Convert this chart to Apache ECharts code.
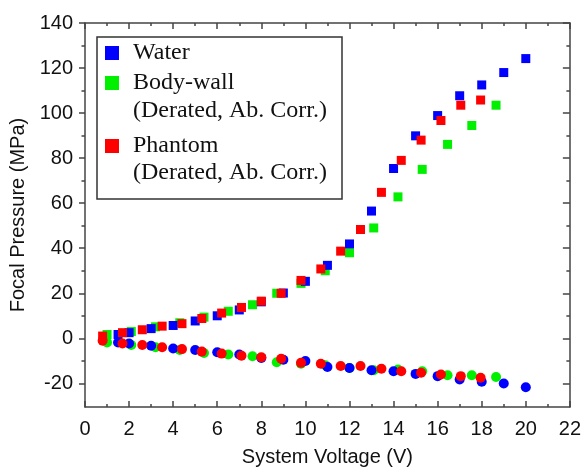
<!DOCTYPE html>
<html>
<head>
<meta charset="utf-8">
<script src="https://cdn.jsdelivr.net/npm/echarts@6/dist/echarts.min.js"></script>
<style>
  html, body { margin: 0; padding: 0; background: #fff; }
  #chart { width: 584px; height: 472px; }
</style>
</head>
<body>
<div id="chart"></div>
<script>
// voltages (V) and focal pressures (MPa)
const waterV = [1.5, 2, 3, 4, 5, 6, 7, 8, 9, 10, 11, 12, 13, 14, 15, 16, 17, 18, 19, 20];
const waterPos = [1.7, 2.5, 4.3, 5.7, 7.7, 10.0, 12.6, 16.2, 20.1, 25.3, 32.4, 41.9, 56.5, 75.4, 89.9, 98.9, 107.7, 112.5, 118.0, 124.2];
const waterNeg = [-1.9, -2.3, -3.3, -4.5, -5.2, -6.2, -7.2, -8.7, -9.5, -10.1, -12.7, -13.2, -14.2, -14.6, -15.8, -16.8, -18.3, -19.3, -20.1, -21.7];

const bodyV = [1.0, 2.1, 3.2, 4.3, 5.4, 6.5, 7.6, 8.7, 9.8, 10.9, 12.0, 13.1, 14.2, 15.3, 16.45, 17.55, 18.65];
const bodyPos = [1.7, 3.0, 5.1, 6.9, 9.4, 12.0, 14.9, 20.0, 24.4, 30.0, 38.0, 49.0, 62.8, 75.0, 86.1, 94.5, 103.5];
const bodyNeg = [-1.9, -3.0, -4.0, -5.2, -6.5, -7.2, -8.0, -10.6, -11.3, -12.0, -13.2, -14.2, -13.9, -14.6, -16.4, -16.4, -17.2];

const phantomV = [0.8, 1.7, 2.6, 3.5, 4.4, 5.3, 6.2, 7.1, 8.0, 8.9, 9.8, 10.7, 11.6, 12.5, 13.45, 14.35, 15.25, 16.15, 17.05, 17.95];
const phantomPos = [1.0, 2.5, 3.8, 5.4, 6.5, 8.8, 11.2, 13.7, 16.5, 20.0, 25.7, 30.8, 38.7, 48.3, 64.8, 79.0, 88.0, 96.7, 103.5, 105.8];
const phantomNeg = [-1.1, -2.3, -3.0, -4.0, -4.8, -5.9, -6.8, -7.7, -8.4, -9.1, -10.9, -11.3, -12.3, -12.3, -13.5, -14.6, -15.3, -16.1, -16.8, -17.5];

const yMajor = [-20, 0, 20, 40, 60, 80, 100, 120, 140];
const yMinor = [-10, 10, 30, 50, 70, 90, 110, 130];

const subLabel = '(Derated, Ab. Corr.)';

function pairs(xs, ys) {
  return xs.map(function (x, i) { return [x, ys[i]]; });
}

const axisColor = '#444';
const sans = '"Liberation Sans", Arial, sans-serif';
const serif = '"Liberation Serif", "Times New Roman", serif';

const chart = echarts.init(document.getElementById('chart'), null, { renderer: 'canvas' });

function yAx(position, ticks, len, inside, showLabel, showLine, name) {
  return {
    type: 'value',
    position: position,
    min: -30.5,
    max: 140,
    name: name || '',
    nameLocation: 'middle',
    nameGap: 48,
    nameTextStyle: { fontFamily: sans, fontSize: 20, color: '#111' },
    axisLine: { show: showLine, onZero: false, lineStyle: { color: axisColor, width: 1.5 } },
    axisTick: { show: true, inside: inside, length: len, customValues: ticks, lineStyle: { color: axisColor, width: 1.5 } },
    axisLabel: { show: showLabel, customValues: ticks, margin: 12, fontFamily: sans, fontSize: 20, color: '#111' },
    splitLine: { show: false }
  };
}

function xAx(position, showLabel, name) {
  return {
    type: 'value',
    position: position,
    min: 0,
    max: 22,
    interval: 2,
    name: name || '',
    nameLocation: 'middle',
    nameGap: 40,
    nameTextStyle: { fontFamily: sans, fontSize: 20, color: '#111' },
    axisLine: { show: true, onZero: false, lineStyle: { color: axisColor, width: 1.5 } },
    axisTick: { show: true, inside: true, length: 6, lineStyle: { color: axisColor, width: 1.5 } },
    minorTick: { show: true, splitNumber: 2, length: 3, lineStyle: { color: axisColor, width: 1.5 } },
    axisLabel: { show: showLabel, margin: 12, fontFamily: sans, fontSize: 20, color: '#111' },
    splitLine: { show: false }
  };
}

function scat(name, xs, ys, color, symbol, size) {
  return {
    name: name,
    type: 'scatter',
    symbol: symbol,
    symbolSize: size,
    data: pairs(xs, ys),
    itemStyle: { color: color, opacity: 1 },
    emphasis: { disabled: true }
  };
}

function legendFor(name, top) {
  return {
    data: [{ name: name, icon: 'rect' }],
    orient: 'vertical',
    left: 105,
    top: top,
    padding: 0,
    itemWidth: 14,
    itemHeight: 14,
    selectedMode: false,
    textStyle: { fontFamily: serif, fontSize: 24, color: '#111', padding: [0, 0, 0, 9] }
  };
}

chart.setOption({
  backgroundColor: '#fff',
  animation: false,
  grid: { left: 85, right: 13, top: 23, bottom: 56, containLabel: false },
  xAxis: [
    xAx('bottom', true, 'System Voltage (V)'),
    xAx('top', false)
  ],
  yAxis: [
    yAx('left', yMajor, 6, false, true, true, 'Focal Pressure (MPa)'),
    yAx('left', yMinor, 3.5, false, false, false),
    yAx('right', yMajor, 7, true, false, true),
    yAx('right', yMinor, 3.5, true, false, false)
  ],
  legend: [
    legendFor('Water', 41),
    legendFor('Body-wall', 71),
    legendFor('Phantom', 134)
  ],
  graphic: [
    {
      type: 'rect',
      shape: { x: 97, y: 37, width: 245, height: 162 },
      style: { fill: 'rgba(0,0,0,0)', stroke: '#333', lineWidth: 1.5 },
      z: 10
    },
    {
      type: 'text',
      style: { x: 133, y: 111, text: subLabel, font: '24px ' + serif, fill: '#111', verticalAlign: 'middle' },
      z: 10
    },
    {
      type: 'text',
      style: { x: 133, y: 173, text: subLabel, font: '24px ' + serif, fill: '#111', verticalAlign: 'middle' },
      z: 10
    }
  ],
  series: [
    scat('Body-wall', bodyV, bodyPos, '#00f000', 'rect', 9),
    scat('Body-wall', bodyV, bodyNeg, '#00f000', 'circle', 10),
    scat('Water', waterV, waterPos, '#0000ff', 'rect', 9),
    scat('Water', waterV, waterNeg, '#0000ff', 'circle', 10),
    scat('Phantom', phantomV, phantomPos, '#ff0000', 'rect', 9),
    scat('Phantom', phantomV, phantomNeg, '#ff0000', 'circle', 10)
  ]
});
</script>
</body>
</html>
